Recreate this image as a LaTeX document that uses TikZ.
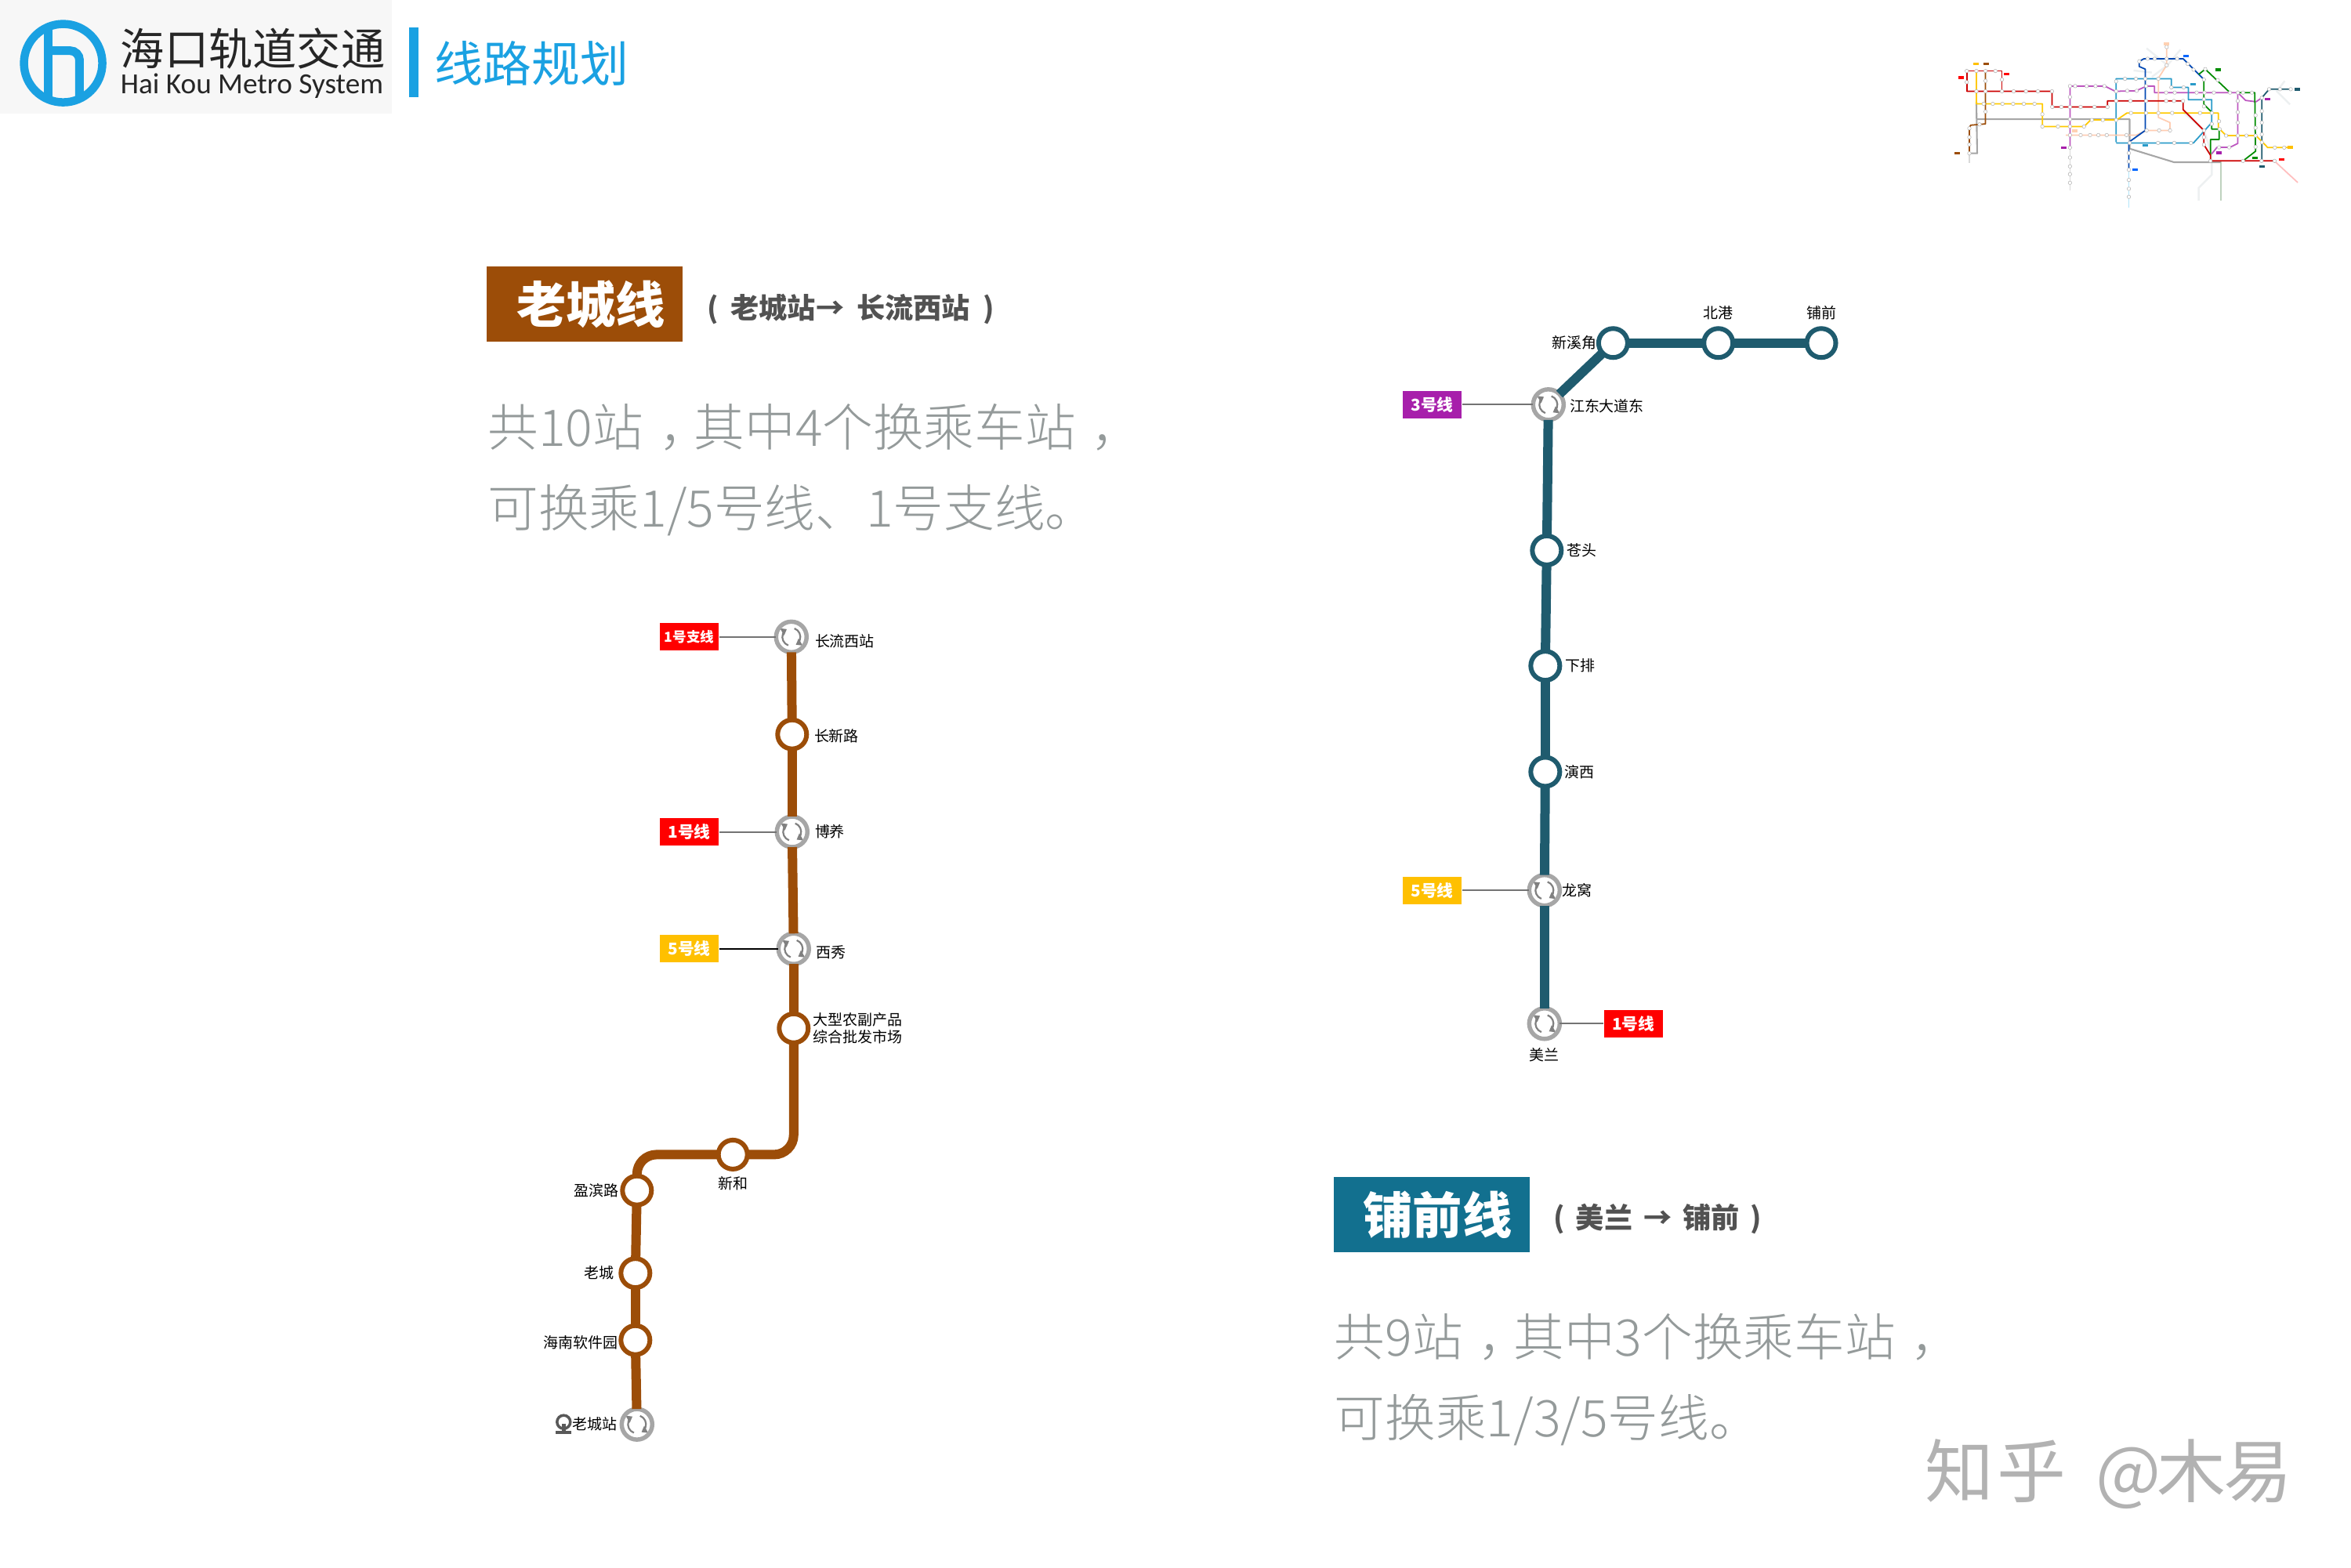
\documentclass[tikz,border=0pt]{standalone}
\usepackage{xcolor}
\usepackage{fontspec}
\setmainfont{Noto Sans CJK SC}
\newfontfamily\logofont{Carlito}
\newfontfamily\thinfont{Noto Sans CJK SC Light}
\usepackage{tikz}
\usetikzlibrary{shapes, arrows.meta, positioning}
\definecolor{oldbrown}{HTML}{9C4D08}
\definecolor{fqteal}{HTML}{1F5B6E}
\definecolor{fqbox}{HTML}{12708F}
\definecolor{logoblue}{HTML}{1AA1E2}
\definecolor{ringgray}{HTML}{A6A6A6}
\definecolor{bodygray}{HTML}{949A9A}
\definecolor{linered}{HTML}{FF0000}
\definecolor{lineyellow}{HTML}{FFC000}
\definecolor{linepurple}{HTML}{A71FAB}
\begin{document}
\begin{tikzpicture}[x=0.00995cm, y=-0.00995cm,
            lbl/.style={inner sep=0pt, font=\fontsize{5.4pt}{6.2pt}\selectfont, align=left},
            tagbox/.style={rectangle, inner sep=0pt, text=white, minimum width=0.75cm, minimum height=0.35cm, font=\bfseries\fontsize{5.9pt}{7pt}\selectfont},
            tiebar/.style={line width=0.55pt, draw=black!55},
            oldline/.style={draw=oldbrown, line width=1.2mm},
            fqline/.style={draw=fqteal, line width=1.2mm},
            stn/.style={circle, fill=white, line width=0.6mm, minimum size=0.37cm, inner sep=0pt, outer sep=0pt},
            swap/.style={circle, fill=white, draw=ringgray, line width=0.55mm, minimum size=0.39cm, inner sep=0pt, outer sep=0pt,
                path picture={
                    \draw[draw=black!50, line width=0.22mm, -{Triangle[length=0.07cm, width=0.1cm]}] ([shift={(70:0.115cm)}]path picture bounding box.center) arc (70:-60:0.115cm);
                    \draw[draw=black!50, line width=0.22mm, -{Triangle[length=0.07cm, width=0.1cm]}] ([shift={(250:0.115cm)}]path picture bounding box.center) arc (250:120:0.115cm);
                }},
            headbox/.style={rectangle, inner sep=0pt, text=white, minimum width=2.5cm, minimum height=0.96cm, font=\bfseries\fontsize{18pt}{20pt}\selectfont},
            subhead/.style={inner sep=0pt, text=black!68, font=\bfseries\fontsize{10.3pt}{12pt}\selectfont},
            bodytxt/.style={inner sep=0pt, anchor=west, text=bodygray, font=\thinfont\fontsize{18.4pt}{22pt}\selectfont},
            mapline/.style={line width=0.5pt, line join=round},
            mapstn/.style={circle, fill=white, draw=black!30, line width=0.15pt, inner sep=0pt, minimum size=0.045cm},
            maptag/.style={rectangle, inner sep=0pt, minimum width=0.07cm, minimum height=0.035cm}]
            \useasboundingbox (0cm,0cm) rectangle (30cm,-20cm);

            % header
            \fill[black!3] (0,0) rectangle (503,146);
            \node[circle, draw=logoblue, line width=1.05mm, minimum size=1cm, inner sep=0pt] (logoring) at (81,81) {};
            \draw[draw=logoblue, line width=1.1mm] (62,32) -- (62,130);
            \draw[draw=logoblue, line width=1.1mm, rounded corners=0.12cm] (62,65) -- (102,65) -- (102,128);
            \node[inner sep=0pt, anchor=west, text=black!85, font=\fontsize{16pt}{18pt}\selectfont] (logocn) at (154,62) {海口轨道交通};
            \node[inner sep=0pt, anchor=west, text=black!85, font=\logofont\fontsize{10.6pt}{12pt}\selectfont] (logoen) at (154,110) {Hai Kou Metro System};
            \fill[logoblue] (525,35) rectangle (537,125);
            \node[inner sep=0pt, anchor=west, text=logoblue, font=\fontsize{17.6pt}{20pt}\selectfont] (pagetitle) at (557,81) {线路规划};

            % network overview
            \begin{scope}[shift={(2492.5,30.2)}, x=0.00333cm, y=-0.00333cm]
                \draw[line width=0.7pt, cyan!25!black!8!white] (980,680) -- (980,630) -- (1030,580) -- (1030,500) -- (1000,410) -- (920,340);
                \draw[line width=0.7pt, cyan!25!black!8!white] (780,95) -- (860,160) -- (910,100) (860,160) -- (800,205) (730,180) -- (800,188);
                \draw[line width=0.7pt, cyan!25!black!8!white] (1310,220) -- (1280,260) -- (1330,310);
                \draw[mapline, black!15] (486,476) -- (486,640);
                \draw[mapline, black!15] (100,498) -- (100,535);
                \draw[mapline, cyan!30] (712,560) -- (712,705);
                \draw[mapline, green!30!black!25] (1065,527) -- (1065,680);
                \draw[mapline, red!25] (1270,527) -- (1360,610);
                \draw[mapline, black!35, line width=0.6pt] (127,300) -- (130,498) -- (100,498);
                \draw[mapline, black!35, line width=0.6pt] (130,367) -- (715,367) -- (715,480) -- (885,532) -- (1065,532);
                \draw[mapline, linepurple!75] (486,476) -- (486,240) -- (620,240) -- (660,260) -- (740,258) -- (780,240) -- (810,240) -- (810,265) -- (1130,265) -- (1160,295) -- (1200,300) -- (1222,285);
                \draw[mapline, linepurple!75] (1130,265) -- (1130,460) -- (1100,475) -- (1050,475) -- (1030,500);
                \draw[mapline, cyan!80!black] (663,455) -- (663,212) -- (875,212) -- (875,245) -- (940,245) -- (940,292) -- (1030,292) -- (1030,380) -- (960,458) -- (663,458);
                \draw[mapline, red!30!orange!30] (470,428) -- (740,428) -- (780,410) -- (870,410) -- (870,380) -- (825,360) -- (825,210) -- (857,160) -- (857,90);
                \draw[mapline, blue!60!cyan!70!black] (775,410) -- (775,175) -- (752,165) -- (752,145) -- (770,135) -- (920,135) -- (1000,215);
                \draw[mapline, blue!60!cyan!70!black] (712,560) -- (712,455) -- (775,410);
                \draw[mapline, green!55!black] (1000,215) -- (1000,310) -- (1030,340) (980,195) -- (1005,175) -- (1100,265) (1030,385) -- (1030,405) -- (1058,405) -- (1058,445) -- (1025,445) -- (1025,505) (1130,265) -- (1195,265) -- (1198,490) -- (1150,527);
                \draw[mapline, fqteal] (1222,527) -- (1222,285) -- (1250,252) -- (1335,252);
                \draw[mapline, lineyellow!85!yellow] (127,182) -- (127,308) -- (380,308) -- (380,395) -- (540,395) -- (565,370) -- (665,370) -- (705,343) -- (1055,343) -- (1055,400) -- (1085,430) -- (1200,430) -- (1245,476) -- (1330,476);
                \draw[mapline, oldbrown] (162,182) -- (162,385) -- (105,390) -- (100,400) -- (100,498);
                \draw[mapline, red!80!black] (90,260) -- (90,182) -- (225,182) -- (225,260);
                \draw[mapline, red!80!black] (90,260) -- (417,260) -- (417,320) -- (630,320) -- (630,297) -- (920,297) -- (920,330) -- (1000,410) -- (1000,465) -- (1025,505) -- (1025,527) -- (1270,527);
                \foreach \px/\py in {90/182, 127/182, 162/182, 200/182, 225/215, 90/225, 162/220, 162/338, 127/260, 162/260, 225/260, 270/260, 317/260, 363/260, 417/260,
                    155/308, 190/308, 227/308, 268/308, 309/308, 350/308, 380/348, 380/395, 440/395, 486/395, 540/395, 570/370, 612/370, 663/370,
                    418/320, 453/320, 527/320, 580/320, 630/320, 486/240, 506/240, 550/240, 584/240, 618/240, 486/282, 486/320, 486/367, 486/428, 486/476,
                    663/222, 697/212, 739/212, 775/212, 825/212, 875/245, 922/245, 663/297, 718/297, 778/297, 855/297, 885/297, 920/297,
                    663/260, 706/258, 742/258, 778/240, 855/265, 888/265, 972/265, 1002/265, 1038/265, 1100/265, 1130/265, 1150/265, 1184/265, 1222/285, 1250/252, 1292/252, 1333/252,
                    720/343, 778/343, 825/343, 878/343, 985/343, 1030/343, 1058/375, 1085/430, 1130/430, 1163/430, 1198/430, 1222/456, 1272/476, 1308/476,
                    1130/297, 1130/340, 1130/380, 1198/352, 1198/400, 1198/473, 1222/336, 1222/380, 1222/425, 1221/527, 1150/527, 1271/527, 1025/527,
                    527/428, 563/428, 595/428, 627/428, 703/428, 780/410, 828/410, 870/410, 824/458, 886/458, 950/458, 715/458, 712/497, 712/529, 712/561,
                    752/145, 784/135, 811/135, 857/135, 897/135, 938/155, 960/177, 1000/215, 1005/175, 1053/217, 1000/290, 1000/318,
                    100/402, 100/436, 100/464, 100/498, 139/387, 857/90, 857/160, 1000/410, 1000/436, 1000/465, 1097/475, 1058/475, 1030/385, 1060/405,
                    486/514, 486/548, 486/578, 486/611, 712/600, 712/634, 712/665} {
                    \node[mapstn] at (\px,\py) {};
                }
                \foreach \tx/\ty/\tc in {68/208/linered, 126/155/lineyellow, 165/155/oldbrown, 242/194/linered, 930/125/blue!60!cyan, 857/78/red!20!orange!30, 1055/177/green!55!black,
                    958/233/cyan!80!black, 1244/290/linepurple, 1357/252/fqteal, 1331/475/lineyellow, 1297/522/linered, 1222/549/fqteal, 1195/515/green!55!black,
                    1058/496/linepurple, 775/468/cyan!80!black, 735/561/blue!60!cyan, 462/476/linepurple, 505/412/red!20!orange!30, 53/497/oldbrown} {
                    \node[maptag, fill=\tc] at (\tx,\ty) {};
                }
            \end{scope}

            % laocheng line
            \node[headbox, fill=oldbrown] (oldhead) at (750,390) {\hspace{0.16cm}老城线};
            \node[subhead, anchor=west] (oldsub) at (906,397) {(\hspace{0.16cm}老城站→\hspace{0.16cm}长流西站\hspace{0.16cm})};
            \node[bodytxt] (oldtxta) at (625,548) {共10站\hspace{0.2cm}，\hspace{-0.2cm}其中4个换乘车站\hspace{0.2cm}，};
            \node[bodytxt] (oldtxtb) at (625,654) {可换乘1/5号线、1号支线。};

            \node[swap] (changliu) at (1015,817) {};
            \node[stn, draw=oldbrown] (changxin) at (1016,942) {};
            \node[swap] (boyang) at (1016,1067) {};
            \node[swap] (xixiu) at (1018,1217) {};
            \node[stn, draw=oldbrown] (nongfu) at (1018,1319) {};
            \node[stn, draw=oldbrown] (xinhe) at (940,1481) {};
            \node[stn, draw=oldbrown] (yingbin) at (817,1527) {};
            \node[stn, draw=oldbrown] (laocheng) at (815,1633) {};
            \node[stn, draw=oldbrown] (ruanjian) at (815,1719) {};
            \node[swap] (lcstation) at (817,1827) {};

            \draw[oldline] (changliu) -- (changxin);
            \draw[oldline] (changxin) -- (boyang);
            \draw[oldline] (boyang) -- (xixiu);
            \draw[oldline] (xixiu) -- (nongfu);
            \draw[oldline, rounded corners=0.25cm] (nongfu) |- (xinhe);
            \draw[oldline, rounded corners=0.25cm] (xinhe) -| (yingbin);
            \draw[oldline] (yingbin) -- (laocheng);
            \draw[oldline] (laocheng) -- (ruanjian);
            \draw[oldline] (ruanjian) -- (lcstation);

            \node[lbl, right=0.1cm of changliu, yshift=-0.05cm] (lbcl) {长流西站};
            \node[lbl, right=0.09cm of changxin, yshift=-0.02cm] (lbcx) {长新路};
            \node[lbl, right=0.09cm of boyang] (lbby) {博养};
            \node[lbl, right=0.09cm of xixiu, yshift=-0.05cm] (lbxx) {西秀};
            \node[lbl, right=0.06cm of nongfu] (lbnf) {大型农副产品\\综合批发市场};
            \node[lbl, below=0.09cm of xinhe] (lbxh) {新和};
            \node[lbl, left=0.04cm of yingbin] (lbyb) {盈滨路};
            \node[lbl, left=0.08cm of laocheng] (lblc) {老城};
            \node[lbl, left=0.03cm of ruanjian, yshift=-0.03cm] (lbrj) {海南软件园};
            \node[lbl, left=0.05cm of lcstation] (lbst) {老城站};
            \node[circle, draw=black!65, line width=0.35mm, minimum size=0.17cm, inner sep=0pt] (railicon) at (723,1824) {};
            \draw[draw=black!65, line width=0.45mm] (railicon.center) ++(0,2) -- ++(0,12);
            \draw[draw=black!65, line width=0.4mm] (713,1837) -- (733,1837);

            \node[tagbox, fill=linered, font=\bfseries\fontsize{5pt}{6pt}\selectfont] (tagbranch) at (884,817) {1号支线};
            \node[tagbox, fill=linered] (tagone) at (884,1067) {1号线};
            \node[tagbox, fill=lineyellow] (tagfive) at (884,1217) {5号线};
            \draw[tiebar] (tagbranch) -- (changliu);
            \draw[tiebar] (tagone) -- (boyang);
            \draw[tiebar, draw=black] (tagfive) -- (xixiu);

            % fuqian line
            \node[swap] (jiangdong) at (1986,519) {};
            \node[stn, draw=fqteal] (xinxi) at (2069,440) {};
            \node[stn, draw=fqteal] (beigang) at (2204,440) {};
            \node[stn, draw=fqteal] (puqian) at (2336,440) {};
            \node[stn, draw=fqteal] (cangtou) at (1984,706) {};
            \node[stn, draw=fqteal] (xiapai) at (1982,854) {};
            \node[stn, draw=fqteal] (yanxi) at (1982,990) {};
            \node[swap] (longwo) at (1981,1142) {};
            \node[swap] (meilan) at (1981,1313) {};

            \draw[fqline] (puqian) -- (beigang);
            \draw[fqline] (beigang) -- (xinxi);
            \draw[fqline] (xinxi) -- (jiangdong);
            \draw[fqline] (jiangdong) -- (cangtou);
            \draw[fqline] (cangtou) -- (xiapai);
            \draw[fqline] (xiapai) -- (yanxi);
            \draw[fqline] (yanxi) -- (longwo);
            \draw[fqline] (longwo) -- (meilan);

            \node[lbl, right=0.07cm of jiangdong, yshift=-0.02cm] (lbjd) {江东大道东};
            \node[lbl, right=0.06cm of cangtou] (lbct) {苍头};
            \node[lbl, right=0.06cm of xiapai] (lbxp) {下排};
            \node[lbl, right=0.05cm of yanxi] (lbyx) {演西};
            \node[lbl, right=0.02cm of longwo] (lblw) {龙窝};
            \node[lbl, below=0.11cm of meilan] (lbml) {美兰};
            \node[lbl, left=0.02cm of xinxi] (lbxj) {新溪角};
            \node[lbl, above=0.11cm of beigang] (lbbg) {北港};
            \node[lbl, above=0.11cm of puqian] (lbpq) {铺前};

            \node[tagbox, fill=linepurple] (tagthree) at (1837,519) {3号线};
            \node[tagbox, fill=lineyellow] (tagfiveb) at (1837,1142) {5号线};
            \node[tagbox, fill=linered] (tagoneb) at (2095,1313) {1号线};
            \draw[tiebar] (tagthree) -- (jiangdong);
            \draw[tiebar] (tagfiveb) -- (longwo);
            \draw[tiebar] (meilan) -- (tagoneb);

            \node[headbox, fill=fqbox] (fqhead) at (1836,1558) {\hspace{0.16cm}铺前线};
            \node[subhead, anchor=west] (fqsub) at (1992,1564) {(\hspace{0.14cm}美兰\hspace{0.14cm}→\hspace{0.14cm}铺前\hspace{0.14cm})};
            \node[bodytxt] (fqtxta) at (1711,1715) {共9站\hspace{0.2cm}，\hspace{-0.2cm}其中3个换乘车站\hspace{0.2cm}，};
            \node[bodytxt] (fqtxtb) at (1711,1821) {可换乘1/3/5号线。};

            % watermark
            \node[inner sep=0pt, anchor=west, text=black!30, font=\fontsize{25pt}{28pt}\selectfont] (zhihu) at (2468,1891) {知\hspace{0.05cm}乎\hspace{0.38cm}@\hspace{-0.05cm}木\hspace{-0.03cm}易};
\end{tikzpicture}
\end{document}
